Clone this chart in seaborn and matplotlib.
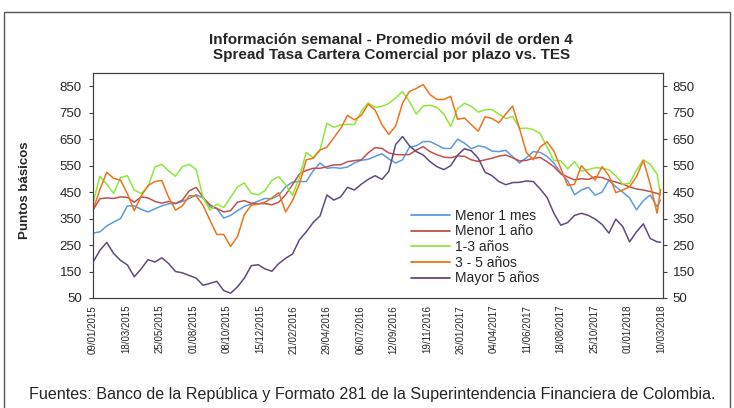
import numpy as np
import pandas as pd
import matplotlib
matplotlib.use("Agg")
import matplotlib.pyplot as plt
from matplotlib.patches import Rectangle
from matplotlib.lines import Line2D
import seaborn as sns

# ---- data (biweekly readings, 4-week moving average, puntos básicos) ----
dates = list(pd.date_range("2015-01-09", "2018-03-02", freq="14D")) + [pd.Timestamp("2018-03-09")]

menor_1_mes = [295, 300, 322, 337, 350, 398, 398, 385, 375, 387, 398, 406, 407, 415, 426, 440, 428, 394, 388, 352,
               362, 380, 396, 405, 416, 426, 425, 438, 470, 488, 490, 490, 530, 560, 540, 543, 540, 545, 560, 570,
               574, 585, 595, 575, 560, 572, 620, 625, 641, 641, 628, 615, 615, 650, 635, 614, 625, 620, 605, 603,
               608, 584, 560, 580, 603, 600, 585, 560, 522, 493, 440, 458, 468, 438, 450, 495, 470, 450, 428, 383,
               418, 439, 395, 420]
menor_1_ano = [382, 425, 428, 426, 432, 430, 412, 432, 428, 415, 408, 415, 407, 420, 455, 468, 430, 402, 388, 375,
               380, 412, 418, 408, 406, 407, 402, 412, 440, 478, 518, 532, 540, 540, 546, 553, 553, 565, 569, 572,
               598, 618, 615, 598, 592, 591, 592, 609, 622, 603, 591, 582, 580, 587, 585, 572, 566, 572, 578, 586,
               590, 580, 568, 570, 578, 581, 565, 546, 520, 507, 496, 501, 498, 508, 505, 495, 488, 480, 470, 462,
               458, 452, 445, 440]
anos_1_3 = [407, 510, 480, 445, 505, 512, 458, 445, 470, 545, 555, 530, 510, 546, 555, 535, 430, 382, 405, 392,
            430, 470, 485, 445, 440, 455, 495, 508, 478, 438, 505, 600, 580, 610, 710, 695, 704, 706, 706, 755,
            787, 770, 774, 785, 806, 830, 792, 745, 775, 778, 770, 745, 698, 765, 786, 774, 752, 761, 762, 745,
            728, 736, 690, 692, 686, 672, 620, 570, 568, 538, 565, 530, 535, 542, 541, 534, 512, 480, 483, 533,
            572, 555, 518, 440]
anos_3_5 = [382, 460, 525, 502, 495, 444, 380, 435, 475, 490, 494, 430, 382, 398, 436, 436, 400, 344, 290, 290,
            245, 282, 365, 400, 405, 412, 428, 448, 375, 418, 480, 572, 578, 609, 620, 655, 690, 740, 723, 740,
            782, 760, 705, 668, 700, 787, 830, 842, 856, 818, 800, 800, 812, 725, 730, 705, 680, 735, 728, 712,
            745, 775, 690, 600, 572, 620, 640, 605, 540, 475, 480, 550, 520, 496, 546, 512, 448, 458, 470, 508,
            570, 480, 370, 460]
mayor_5 = [185, 230, 260, 218, 192, 175, 130, 160, 195, 186, 202, 180, 150, 145, 135, 125, 98, 105, 113, 78,
           68, 92, 125, 172, 176, 160, 151, 180, 200, 216, 270, 300, 335, 360, 439, 420, 432, 468, 458, 480,
           498, 512, 498, 528, 630, 660, 625, 603, 590, 565, 546, 535, 550, 590, 614, 606, 578, 525, 512, 490,
           478, 486, 487, 492, 490, 462, 430, 370, 325, 335, 362, 370, 362, 348, 328, 295, 348, 320, 262, 300,
           330, 275, 262, 261]

series_names = ["Menor 1 mes", "Menor 1 año", "1-3 años", "3 - 5 años", "Mayor 5 años"]
series_values = [menor_1_mes, menor_1_ano, anos_1_3, anos_3_5, mayor_5]
colors = ["#5B9BE0", "#C0504D", "#8EE83A", "#F07318", "#5F4A80"]

yticks = [50, 150, 250, 350, 450, 550, 650, 750, 850]
xtick_dates = pd.date_range("2015-01-09", "2018-03-10", freq="68D")

frames = []
for name, vals in zip(series_names, series_values):
    frames.append(pd.DataFrame({"Fecha": dates, "Valor": vals, "Serie": name}))
df = pd.concat(frames, ignore_index=True)

# ---- style ----
sns.set_theme(style="white")
plt.rcParams["font.family"] = ["Liberation Sans", "DejaVu Sans"]

fig = plt.figure(figsize=(7.34, 4.08), dpi=100)
ax = fig.add_axes([93 / 734, 1 - 298 / 408, (663 - 93) / 734, (298 - 73) / 408])

sns.lineplot(data=df, x="Fecha", y="Valor", hue="Serie", hue_order=series_names,
             palette=colors, linewidth=1.1, ax=ax, legend=False)

ax.set_xlim(pd.Timestamp("2015-01-09"), pd.Timestamp("2018-03-14"))
ax.set_ylim(50, 900)
ax.set_yticks(yticks)
ax.set_yticklabels([str(v) for v in yticks], fontsize=9.5)
ax.set_xticks(xtick_dates)
ax.set_xticklabels([d.strftime("%d/%m/%Y") for d in xtick_dates], rotation=90, fontsize=7)
ax.set_xlabel("")
ax.set_ylabel("")
ax.tick_params(axis="y", direction="out", length=3, width=0.8, color="#404040", pad=5)
ax.tick_params(axis="x", direction="out", length=3, width=0.8, color="#404040", pad=2)
for s in ax.spines.values():
    s.set_color("#404040")
    s.set_linewidth(0.8)

ax2 = ax.twinx()
ax2.set_ylim(50, 900)
ax2.set_yticks(yticks)
ax2.set_yticklabels([str(v) for v in yticks], fontsize=9.5)
ax2.tick_params(axis="y", direction="out", length=3, width=0.8, color="#404040", pad=4)
for s in ax2.spines.values():
    s.set_color("#404040")
    s.set_linewidth(0.8)

# legend
handles = [Line2D([0], [0], color=c, lw=1.3) for c in colors]
fig.legend(handles, series_names, loc="upper left", bbox_to_anchor=(401 / 734, 1 - 199 / 408),
           frameon=False, fontsize=10, handlelength=2.8, handletextpad=0.4, labelspacing=0.12,
           borderpad=0.2)

fig.text(0.533, 1 - 40 / 408, "Información semanal - Promedio móvil de orden 4",
         ha="center", va="center", fontsize=11, fontweight="bold")
fig.text(0.533, 1 - 55 / 408, "Spread Tasa Cartera Comercial por plazo vs. TES",
         ha="center", va="center", fontsize=11, fontweight="bold")
fig.text(25 / 734, 1 - 190 / 408, "Puntos básicos", rotation=90, ha="center", va="center",
         fontsize=9.5, fontweight="bold")
fig.text(29 / 734, 1 - 395 / 408,
         "Fuentes: Banco de la República y Formato 281 de la Superintendencia Financiera de Colombia.",
         ha="left", va="center", fontsize=11.6)

# outer border of the chart area
fig.patches.append(Rectangle((4 / 734, -0.02), 726 / 734, 1 - 12 / 408 + 0.02, transform=fig.transFigure,
                             fill=False, edgecolor="#555555", linewidth=1.0))

fig.savefig("out.png", dpi=100, facecolor="white")
